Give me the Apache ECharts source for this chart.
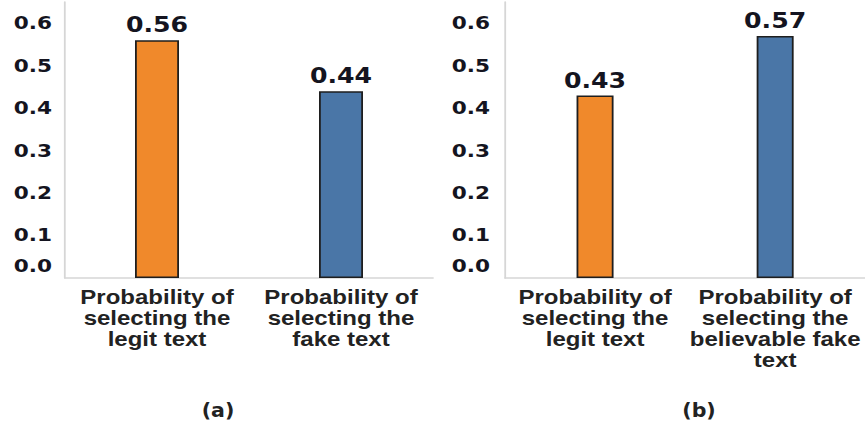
<!DOCTYPE html>
<html>
<head>
<meta charset="utf-8">
<script src="https://cdn.jsdelivr.net/npm/echarts@6/dist/echarts.min.js"></script>
<style>
  html, body { margin: 0; padding: 0; background: #fff; overflow: hidden; }
  /* the figure is laid out in a narrower box and widened horizontally */
  #chart { width: 720.83px; height: 425px; transform: scaleX(1.2); transform-origin: 0 0; }
</style>
</head>
<body>
<div id="chart"></div>
<script>
// Panel (a): legit text vs. fake text
const categoriesA = ['Probability of\nselecting the\nlegit text', 'Probability of\nselecting the\nfake text'];
const valuesA = [0.56, 0.44];
// Panel (b): legit text vs. believable fake text
const categoriesB = ['Probability of\nselecting the\nlegit text', 'Probability of\nselecting the\nbelievable fake\ntext'];
const valuesB = [0.43, 0.57];
const panelTitles = ['(a)', '(b)'];
const barColors = ['#F0892B', '#4A76A7'];

const S = 1.2; // horizontal widening applied to the container
const narrowFont = "'Liberation Sans Narrow', 'DejaVu Sans Condensed', 'Liberation Sans', sans-serif";

const yAxisBase = {
  type: 'value', min: 0, max: 0.65, interval: 0.1,
  axisLine: { show: true, lineStyle: { color: '#d6d6d6', width: 1.5 } },
  axisTick: { show: false },
  splitLine: { show: false },
  axisLabel: {
    showMaxLabel: false,
    fontFamily: 'DejaVu Sans', fontWeight: 'bold', fontSize: 18, color: '#141420',
    formatter: function (v) {
      if (Math.abs(v * 10 - Math.round(v * 10)) > 1e-6) return '';
      if (v === 0) return '{z|0.0}';
      return v.toFixed(1);
    },
    rich: { z: { fontFamily: 'DejaVu Sans', fontWeight: 'bold', fontSize: 18, color: '#141420', padding: [0, 0, 24, 0] } }
  }
};

const xAxisBase = {
  type: 'category',
  axisLine: { show: true, lineStyle: { color: '#d6d6d6', width: 1.5 } },
  axisTick: { show: false },
  axisLabel: {
    interval: 0, margin: 9,
    fontFamily: 'Liberation Sans', fontWeight: 'bold', fontSize: 20, lineHeight: 21, color: '#222'
  }
};

function barSeries(values, idx, width) {
  return {
    type: 'bar', xAxisIndex: idx, yAxisIndex: idx, barWidth: width,
    data: values.map((v, i) => ({ value: v, itemStyle: { color: barColors[i] } })),
    itemStyle: { borderColor: '#1e1e1e', borderWidth: 1.5 },
    label: {
      show: true, position: 'top', distance: 5,
      fontFamily: 'DejaVu Sans', fontWeight: 'bold', fontSize: 21, color: '#141420',
      formatter: p => p.value.toFixed(2)
    }
  };
}

const chart = echarts.init(document.getElementById('chart'), null, { renderer: 'svg' });
chart.setOption({
  animation: false,
  backgroundColor: '#fff',
  title: [
    { text: panelTitles[0], left: 212 / S, top: 396, textAlign: 'center',
      textStyle: { fontFamily: narrowFont, fontWeight: 'bold', fontSize: 19, color: '#222' } },
    { text: panelTitles[1], left: 693 / S, top: 396, textAlign: 'center',
      textStyle: { fontFamily: narrowFont, fontWeight: 'bold', fontSize: 19, color: '#222' } }
  ],
  grid: [
    { left: 65 / S, width: 368 / S, top: 2, height: 276 },
    { left: 505 / S, width: 366 / S, top: 2, height: 276 }
  ],
  xAxis: [
    Object.assign({}, xAxisBase, { gridIndex: 0, data: categoriesA }),
    Object.assign({}, xAxisBase, { gridIndex: 1, data: categoriesB })
  ],
  yAxis: [
    Object.assign({}, yAxisBase, { gridIndex: 0, axisLabel: Object.assign({}, yAxisBase.axisLabel, { margin: 13 / S }) }),
    Object.assign({}, yAxisBase, { gridIndex: 1, axisLabel: Object.assign({}, yAxisBase.axisLabel, { margin: 15 / S }) })
  ],
  series: [
    barSeries(valuesA, 0, 44 / S),
    barSeries(valuesB, 1, 37 / S)
  ]
});
</script>
</body>
</html>
